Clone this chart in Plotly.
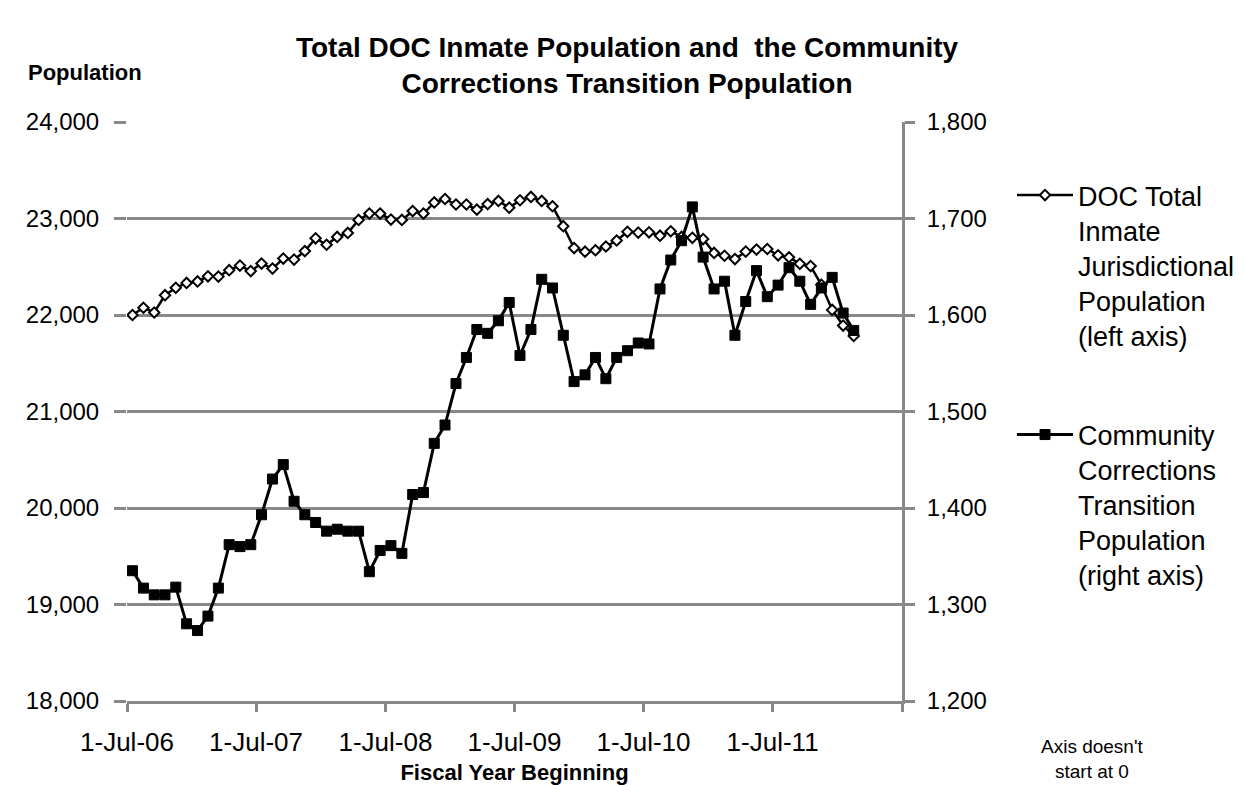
import pandas as pd
import plotly.graph_objects as go

# Monthly observations, July 2006 through February 2012
months = pd.date_range("2006-07-01", periods=68, freq="MS").strftime("%Y-%m-%d").tolist()

# DOC total inmate jurisdictional population (left axis)
doc_total = [22000, 22075, 22026, 22205, 22282, 22332, 22348, 22401, 22398, 22464,
             22512, 22455, 22533, 22481, 22585, 22574, 22662, 22795, 22728, 22809,
             22850, 22985, 23051, 23051, 22989, 22985, 23077, 23051, 23166, 23202,
             23145, 23145, 23092, 23149, 23182, 23112, 23189, 23223, 23182, 23127,
             22920, 22694, 22656, 22671, 22710, 22772, 22862, 22854, 22857, 22822,
             22868, 22809, 22800, 22787, 22643, 22614, 22580, 22657, 22678, 22684,
             22619, 22598, 22530, 22507, 22313, 22053, 21891, 21783]

# Community corrections transition population (right axis)
cc_transition = [1335, 1317, 1310, 1310, 1318, 1280, 1273, 1288, 1317, 1362,
                 1360, 1362, 1393, 1430, 1445, 1407, 1393, 1385, 1376, 1378,
                 1376, 1376, 1334, 1356, 1361, 1353, 1414, 1416, 1467, 1486,
                 1529, 1556, 1585, 1581, 1594, 1613, 1558, 1585, 1637, 1628,
                 1579, 1531, 1538, 1556, 1534, 1556, 1563, 1571, 1570, 1627,
                 1657, 1677, 1712, 1660, 1627, 1635, 1579, 1614, 1646, 1619,
                 1631, 1649, 1635, 1611, 1628, 1639, 1602, 1584]

year_ticks = ["2006-07-01", "2007-07-01", "2008-07-01", "2009-07-01",
              "2010-07-01", "2011-07-01", "2012-07-01"]
year_labels = ["1-Jul-06", "1-Jul-07", "1-Jul-08", "1-Jul-09",
               "1-Jul-10", "1-Jul-11", ""]

left_ticks = [18000, 19000, 20000, 21000, 22000, 23000, 24000]
right_ticks = [1200, 1300, 1400, 1500, 1600, 1700, 1800]

FONT = "Liberation Sans, Arial, sans-serif"
GRID = "#888888"

W, H = 1245, 785
ML, MR, MT, MB = 127, 343, 122, 84
PW, PH = W - ML - MR, H - MT - MB


def px_x(px):
    return (px - ML) / PW


def px_y(py):
    return (H - MB - py) / PH


fig = go.Figure()

fig.add_trace(go.Scatter(
    x=months, y=doc_total, yaxis="y",
    xperiod="M1", xperiodalignment="middle",
    name="DOC Total<br>Inmate<br>Jurisdictional<br>Population<br>(left axis)",
    legendgroup="doc",
    mode="lines+markers",
    line=dict(color="black", width=2.5),
    marker=dict(symbol="diamond", size=8, color="white",
                line=dict(color="black", width=2)),
))

fig.add_trace(go.Scatter(
    x=months, y=cc_transition, yaxis="y2",
    xperiod="M1", xperiodalignment="middle",
    name="Community<br>Corrections<br>Transition<br>Population<br>(right axis)",
    legendgroup="cc",
    mode="lines+markers",
    line=dict(color="black", width=3),
    marker=dict(symbol="square", size=10, color="black",
                line=dict(color="black", width=1)),
))

fig.update_layout(
    width=W, height=H,
    margin=dict(l=ML, r=MR, t=MT, b=MB, autoexpand=False),
    paper_bgcolor="white", plot_bgcolor="white",
    font=dict(family=FONT, size=24, color="black"),
    title=dict(
        text="<b>Total DOC Inmate Population and  the Community<br>Corrections Transition Population</b>",
        x=627 / W, xref="container", xanchor="center",
        y=1 - 57 / H, yref="container", yanchor="middle",
        font=dict(family=FONT, size=28, color="black"),
    ),
    xaxis=dict(
        type="date",
        range=["2006-07-01", "2012-07-01"],
        tickmode="array", tickvals=year_ticks, ticktext=year_labels,
        showgrid=False, zeroline=False, automargin=False,
        showline=True, linecolor=GRID, linewidth=3,
        ticks="outside", ticklen=8, tickwidth=3, tickcolor=GRID,
        ticklabelstandoff=8,
        tickfont=dict(family=FONT, size=26, color="black"),
        title=dict(text="<b>Fiscal Year Beginning</b>", standoff=10,
                   font=dict(family=FONT, size=22, color="black")),
    ),
    yaxis=dict(
        range=[18000, 24000],
        tickmode="array", tickvals=left_ticks, tickformat=",",
        showgrid=True, gridcolor=GRID, gridwidth=3,
        zeroline=False, showline=False, automargin=False,
        ticks="outside", ticklen=12, tickwidth=3, tickcolor=GRID,
        ticklabelstandoff=10,
        tickfont=dict(family=FONT, size=24, color="black"),
    ),
    yaxis2=dict(
        range=[1200, 1800],
        overlaying="y", side="right",
        tickmode="array", tickvals=right_ticks, tickformat=",",
        showgrid=False, zeroline=False, automargin=False,
        showline=True, linecolor=GRID, linewidth=3,
        ticks="outside", ticklen=10, tickwidth=3, tickcolor=GRID,
        ticklabelstandoff=7,
        tickfont=dict(family=FONT, size=24, color="black"),
    ),
    legend=dict(
        x=px_x(1012), y=px_y(171), xanchor="left", yanchor="top",
        valign="top", tracegroupgap=61, itemwidth=56,
        font=dict(family=FONT, size=27, color="black"),
        bgcolor="rgba(0,0,0,0)",
    ),
    showlegend=True,
    annotations=[
        dict(text="<b>Population</b>", x=px_x(26), y=px_y(72),
             xref="paper", yref="paper", xanchor="left", yanchor="middle",
             showarrow=False, font=dict(family=FONT, size=22, color="black")),
        dict(text="Axis doesn't<br>start at 0", x=px_x(1092), y=px_y(759),
             xref="paper", yref="paper", xanchor="center", yanchor="middle",
             showarrow=False, font=dict(family=FONT, size=19, color="black")),
    ],
)

fig.write_html("out.html")
